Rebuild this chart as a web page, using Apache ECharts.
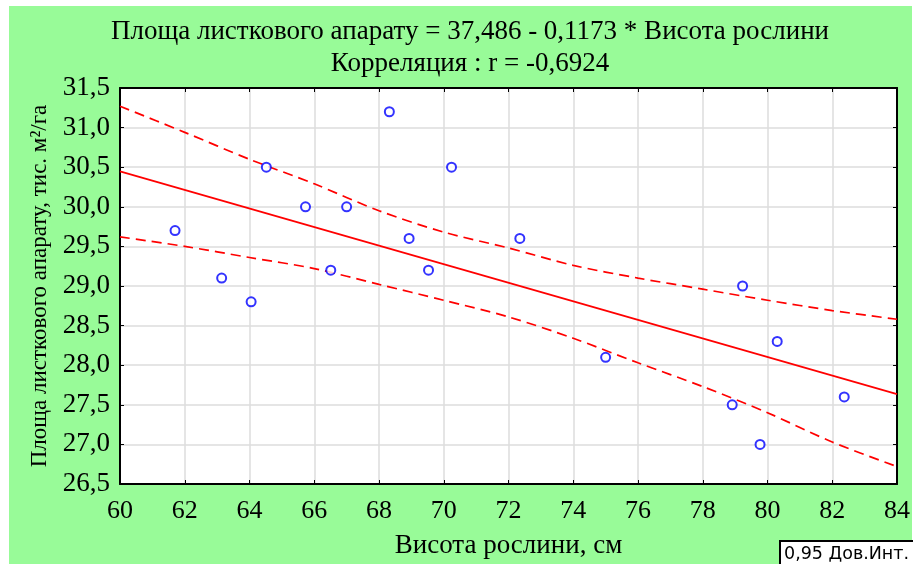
<!DOCTYPE html>
<html><head><meta charset="utf-8">
<script src="https://cdn.jsdelivr.net/npm/echarts@6/dist/echarts.min.js"></script>
<style>html,body{margin:0;padding:0;background:#fff}#c{width:913px;height:564px}</style>
</head><body><div id="c"></div>
<script>
// Data
const heights = [61.7, 63.14, 64.05, 64.52, 65.73, 66.51, 67.0, 68.32, 68.93, 69.53, 70.24, 72.35, 75.0, 78.91, 79.23, 79.77, 80.3, 82.37];
const areas   = [29.7, 29.1, 28.8, 30.5, 30.0, 29.2, 30.0, 31.2, 29.6, 29.2, 30.5, 29.6, 28.1, 27.5, 29.0, 27.0, 28.3, 27.6];
const fitX = [60, 84];
const fitY = [30.448, 27.634];
const bandX = [60, 62, 64, 66, 68, 70, 72, 74, 76, 78, 80, 82, 84];
const upperBand = [31.27, 30.94, 30.60, 30.29, 29.95, 29.68, 29.48, 29.26, 29.10, 28.96, 28.82, 28.69, 28.58];
const lowerBand = [29.62, 29.50, 29.36, 29.22, 29.02, 28.82, 28.61, 28.34, 28.03, 27.73, 27.40, 27.03, 26.72];
const titleLines = ['Площа листкового апарату = 37,486 - 0,1173 * Висота рослини', 'Корреляция : r = -0,6924'];
const xName = 'Висота рослини, см';
const yName = 'Площа листкового апарату, тис. м²/га';
const legendText = '0,95 Дов.Инт.';

const serif = '"Liberation Serif", "Times New Roman", serif';
const fmt = v => v.toFixed(1).replace('.', ',');
const chart = echarts.init(document.getElementById('c'), null, {renderer: 'canvas'});
const zip = (a, b) => a.map((v, i) => [v, b[i]]);
const axisCommon = {
  axisLine: {show: true, onZero: false, lineStyle: {color: '#000', width: 2}},
  axisTick: {show: true, inside: true, length: 4, lineStyle: {color: '#000', width: 1}},
};
chart.setOption({
  animation: false,
  backgroundColor: '#fff',
  graphic: [
    {type: 'rect', z: -10, shape: {x: 9, y: 6, width: 903, height: 558}, style: {fill: '#98FB98'}},
    {type: 'group', z: 20, children: [
      {type: 'rect', shape: {x: 780, y: 541, width: 140, height: 30}, style: {fill: '#fff', stroke: '#000', lineWidth: 2}},
      {type: 'text', x: 784, y: 545, style: {text: legendText, font: '17.5px "DejaVu Sans", sans-serif', fill: '#000'}}
    ]}
  ],
  title: {
    text: titleLines.join('\n'), left: 465, top: 11, textAlign: 'center',
    textStyle: {fontFamily: serif, fontSize: 27, fontWeight: 'normal', color: '#000', lineHeight: 32}
  },
  grid: {left: 120, top: 88, width: 777, height: 403, show: true, backgroundColor: '#fff', borderColor: '#000', borderWidth: 1},
  xAxis: [
    Object.assign({type: 'value', min: 60, max: 84, interval: 2, position: 'bottom',
      name: xName, nameLocation: 'middle', nameGap: 48,
      nameTextStyle: {fontFamily: serif, fontSize: 27, color: '#000'},
      axisLabel: {fontFamily: serif, fontSize: 26, color: '#000', margin: 14},
      splitLine: {show: true, lineStyle: {color: '#dcdcdc', width: 1.5}}}, axisCommon),
    Object.assign({type: 'value', min: 60, max: 84, interval: 2, position: 'top',
      axisLabel: {show: false}, splitLine: {show: false}}, axisCommon)
  ],
  yAxis: [
    Object.assign({type: 'value', min: 26.5, max: 31.5, interval: 0.5, position: 'left',
      name: yName, nameLocation: 'middle', nameGap: 69,
      nameTextStyle: {fontFamily: serif, fontSize: 23, color: '#000'},
      axisLabel: {fontFamily: serif, fontSize: 27, color: '#000', margin: 10, formatter: fmt},
      splitLine: {show: true, lineStyle: {color: '#dcdcdc', width: 1.5}}}, axisCommon),
    Object.assign({type: 'value', min: 26.5, max: 31.5, interval: 0.5, position: 'right',
      axisLabel: {show: false}, splitLine: {show: false}}, axisCommon)
  ],
  series: [
    {type: 'line', data: zip(fitX, fitY), symbol: 'none', lineStyle: {color: '#ff0000', width: 1.7}, z: 3},
    {type: 'line', data: zip(bandX, upperBand), symbol: 'none', smooth: 0.3, lineStyle: {color: '#ff0000', width: 1.7, type: [10, 6]}, z: 3},
    {type: 'line', data: zip(bandX, lowerBand), symbol: 'none', smooth: 0.3, lineStyle: {color: '#ff0000', width: 1.7, type: [10, 6]}, z: 3},
    {type: 'scatter', data: zip(heights, areas), symbol: 'circle', symbolSize: 9,
      itemStyle: {color: '#fff', borderColor: '#0000ff', borderWidth: 2}, z: 5}
  ]
});
</script></body></html>
